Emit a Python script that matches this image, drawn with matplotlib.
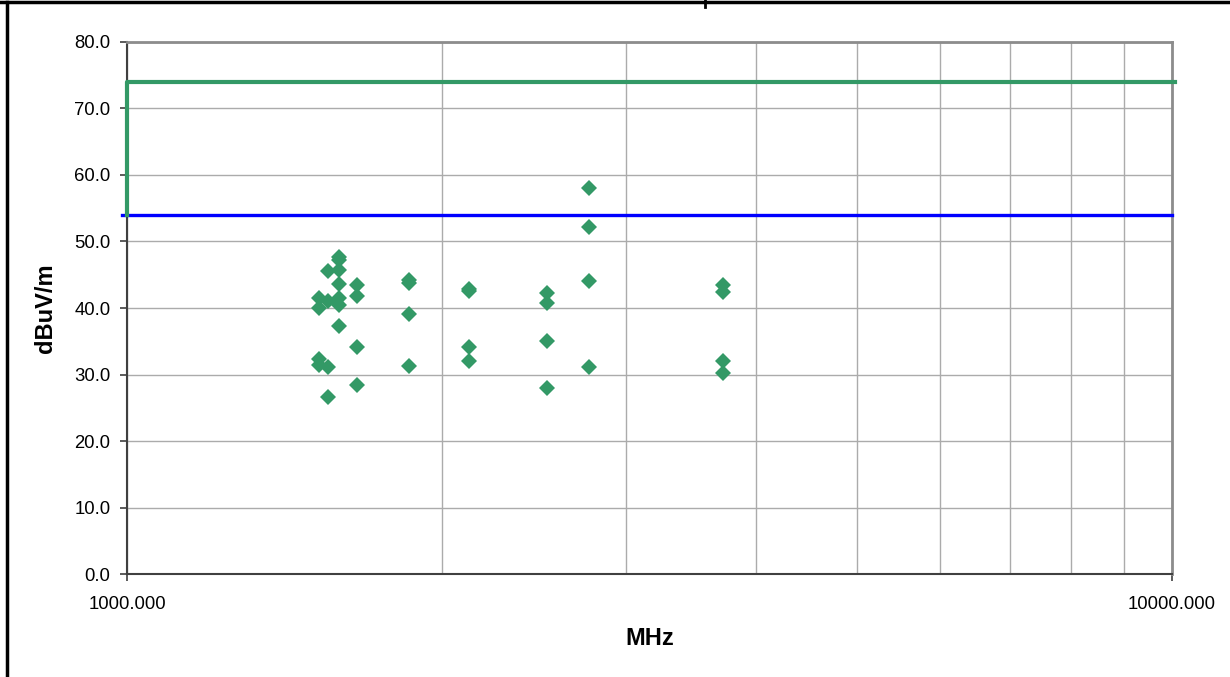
import matplotlib.pyplot as plt
from matplotlib.lines import Line2D
from matplotlib.ticker import FixedLocator, FixedFormatter, NullFormatter

plt.rcParams['font.family'] = ['Liberation Sans', 'DejaVu Sans']

# measured emissions (MHz, dBuV/m)
freq = [1528, 1528, 1528, 1528,
        1556, 1556, 1556, 1556,
        1594, 1594, 1594, 1594, 1594, 1594, 1594,
        1661, 1661, 1661, 1661,
        1860, 1860, 1860, 1860,
        2125, 2125, 2125, 2125,
        2523, 2523, 2523, 2523,
        2770, 2770, 2770, 2770,
        3716, 3716, 3716, 3716]
level = [41.5, 40.0, 32.4, 31.4,
         41.0, 45.6, 31.1, 26.6,
         47.6, 47.2, 45.7, 43.6, 41.5, 40.5, 37.3,
         43.4, 41.8, 34.2, 28.4,
         44.2, 43.8, 39.1, 31.3,
         42.9, 42.5, 34.1, 32.1,
         42.3, 40.7, 35.1, 28.0,
         58.0, 52.2, 44.0, 31.1,
         43.5, 42.4, 32.0, 30.2]

# limit lines
peak_freq = [1000, 1000, 10070]
peak_limit = [54, 74, 74]
avg_freq = [990, 10000]
avg_limit = [54, 54]

y_ticks = [0, 10, 20, 30, 40, 50, 60, 70, 80]
x_major = [1000, 10000]
x_minor = [2000, 3000, 4000, 5000, 6000, 7000, 8000, 9000]

fig = plt.figure(figsize=(12.3, 6.77), dpi=100)
ax = fig.add_axes([0.1033, 0.1521, 0.8496, 0.7859])

ax.set_xscale('log')
ax.set_xlim(1000, 10000)
ax.set_ylim(0, 80)

ax.plot(avg_freq, avg_limit, color='#0000FF', lw=2.4, clip_on=False, zorder=3)
ax.plot(peak_freq, peak_limit, color='#339966', lw=3, clip_on=False, zorder=4)
ax.plot(freq, level, linestyle='none', marker='D', ms=7.8, color='#339966',
        markeredgewidth=0, zorder=5)

ax.xaxis.set_major_locator(FixedLocator(x_major))
ax.xaxis.set_major_formatter(FixedFormatter(['%.3f' % v for v in x_major]))
ax.xaxis.set_minor_locator(FixedLocator(x_minor))
ax.xaxis.set_minor_formatter(NullFormatter())
ax.set_yticks(y_ticks)
ax.set_yticklabels(['%.1f' % v for v in y_ticks])

ax.grid(True, which='both', color='#ABABAB', lw=1)
ax.set_axisbelow(True)
ax.tick_params(axis='both', which='major', labelsize=13.3, color='#404040',
               length=5, width=1.2)
ax.tick_params(axis='x', which='major', pad=11)
ax.tick_params(axis='y', which='major', pad=7)
ax.tick_params(axis='x', which='minor', length=0)

for side in ['left', 'bottom']:
    ax.spines[side].set_color('#404040')
    ax.spines[side].set_linewidth(1.5)
for side in ['top', 'right']:
    ax.spines[side].set_color('#8C8C8C')
    ax.spines[side].set_linewidth(2)

ax.set_xlabel('MHz', fontsize=17, fontweight='bold', labelpad=10)
ax.set_ylabel('dBuV/m', fontsize=17, fontweight='bold', labelpad=12)

# page frame around the chart
fig.add_artist(Line2D([0, 1], [0.997, 0.997], color='black', lw=2.5))
fig.add_artist(Line2D([0.0057, 0.0057], [0, 0.997], color='black', lw=2.5))
fig.add_artist(Line2D([0.5732, 0.5732], [0.99, 1], color='black', lw=2))

fig.savefig('out.png', dpi=100)
